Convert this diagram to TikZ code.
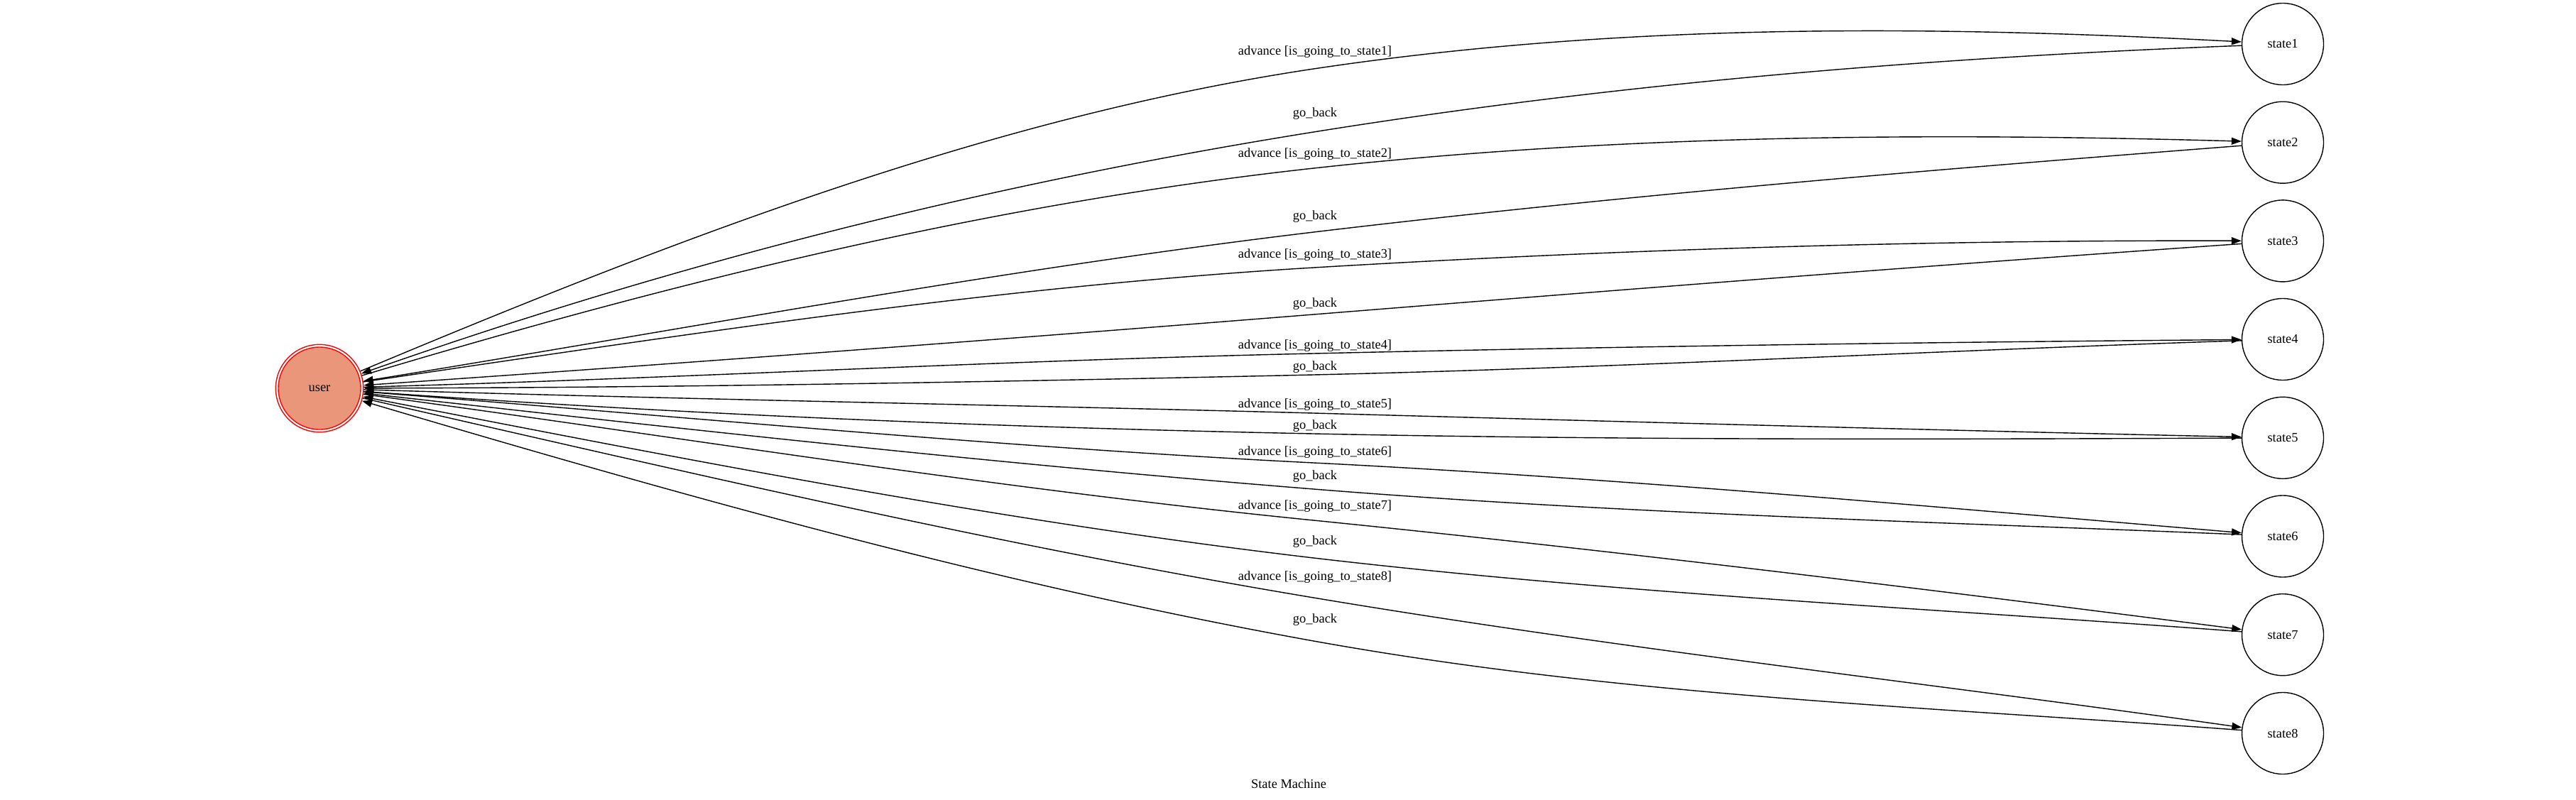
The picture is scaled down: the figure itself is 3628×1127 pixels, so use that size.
\documentclass[tikz,border=0pt]{standalone}
\usepackage{fontspec}
\setmainfont{Liberation Serif}
\usetikzlibrary{arrows.meta}
\definecolor{userfill}{HTML}{E9967A}
\begin{document}
\begin{tikzpicture}[x=1pt,y=-1pt,
  txt/.style={font=\fontsize{18.4}{20}\selectfont},
  statenode/.style={circle,draw=black,line width=1.4pt,minimum size=115pt,inner sep=0pt,txt},
  lbl/.style={inner sep=0pt,txt},
  edge/.style={draw=black,line width=1.4pt,-{Triangle[length=14pt,width=10pt]}},
]
\useasboundingbox[fill=white] (0,0) rectangle (3628,1127);
% user (double circle)
\node[circle,draw=red,line width=1.4pt,minimum size=123.4pt,inner sep=0pt] (user) at (450,547) {};
\node[circle,draw=red,fill=userfill,line width=1.4pt,minimum size=116pt,inner sep=0pt,txt] (userin) at (450,547) {user};
% states
\node[statenode] (state1) at (3215,62) {state1};
\node[statenode] (state2) at (3215,200.7) {state2};
\node[statenode] (state3) at (3215,339.4) {state3};
\node[statenode] (state4) at (3215,478) {state4};
\node[statenode] (state5) at (3215,616.8) {state5};
\node[statenode] (state6) at (3215,755.5) {state6};
\node[statenode] (state7) at (3215,894.2) {state7};
\node[statenode] (state8) at (3215,1033) {state8};
% edges
\draw[edge] (user) .. controls (960,333) and (1400,164.5) .. (1850,97) .. controls (2286,31.6) and (2722,36) .. (state1);
\draw[edge] (state1) .. controls (2722,81) and (2286,116) .. (1850,186) .. controls (1400,258) and (960,367.5) .. (user);
\draw[edge] (user) .. controls (960,394) and (1400,286.5) .. (1850,237) .. controls (2286,189) and (2722,187) .. (state2);
\draw[edge] (state2) .. controls (2722,239) and (2286,275) .. (1850,327) .. controls (1400,381) and (960,464.5) .. (user);
\draw[edge] (user) .. controls (960,472) and (1400,404) .. (1850,377) .. controls (2286,351) and (2722,338) .. (state3);
\draw[edge] (state3) .. controls (2722,373.5) and (2286,408) .. (1850,443) .. controls (1400,479) and (960,512) .. (user);
\draw[edge] (user) .. controls (960,533) and (1400,508) .. (1850,498) .. controls (2286,488) and (2722,482) .. (state4);
\draw[edge] (state4) .. controls (2722,494) and (2286,518) .. (1850,528) .. controls (1400,538) and (960,546) .. (user);
\draw[edge] (user) .. controls (960,562.5) and (1400,570) .. (1850,582) .. controls (2286,594) and (2722,606) .. (state5);
\draw[edge] (state5) .. controls (2722,619) and (2286,620) .. (1850,611) .. controls (1400,602) and (960,583.5) .. (user);
\draw[edge] (user) .. controls (960,586.5) and (1400,629.5) .. (1850,652) .. controls (2286,674) and (2722,714) .. (state6);
\draw[edge] (state6) .. controls (2722,735) and (2286,724) .. (1850,689) .. controls (1400,653) and (960,604) .. (user);
\draw[edge] (user) .. controls (960,616) and (1400,688) .. (1850,733) .. controls (2286,777) and (2722,831) .. (state7);
\draw[edge] (state7) .. controls (2722,857) and (2286,837) .. (1850,786) .. controls (1400,733) and (960,646) .. (user);
\draw[edge] (user) .. controls (960,663.5) and (1400,767) .. (1850,842) .. controls (2286,915) and (2722,963) .. (state8);
\draw[edge] (state8) .. controls (2722,996) and (2286,981.5) .. (1850,903) .. controls (1400,822) and (960,698) .. (user);
% labels
\node[lbl] (la1) at (1852,73) {advance [is\_going\_to\_state1]};
\node[lbl] (lg1) at (1852,160) {go\_back};
\node[lbl] (la2) at (1852,217) {advance [is\_going\_to\_state2]};
\node[lbl] (lg2) at (1852,305) {go\_back};
\node[lbl] (la3) at (1852,359) {advance [is\_going\_to\_state3]};
\node[lbl] (lg3) at (1852,428) {go\_back};
\node[lbl] (la4) at (1852,487) {advance [is\_going\_to\_state4]};
\node[lbl] (lg4) at (1852,517) {go\_back};
\node[lbl] (la5) at (1852,570) {advance [is\_going\_to\_state5]};
\node[lbl] (lg5) at (1852,600) {go\_back};
\node[lbl] (la6) at (1852,637) {advance [is\_going\_to\_state6]};
\node[lbl] (lg6) at (1852,671) {go\_back};
\node[lbl] (la7) at (1852,713) {advance [is\_going\_to\_state7]};
\node[lbl] (lg7) at (1852,763) {go\_back};
\node[lbl] (la8) at (1852,813) {advance [is\_going\_to\_state8]};
\node[lbl] (lg8) at (1852,873) {go\_back};
\node[lbl] (title) at (1815,1104) {State Machine};
\end{tikzpicture}
\end{document}
